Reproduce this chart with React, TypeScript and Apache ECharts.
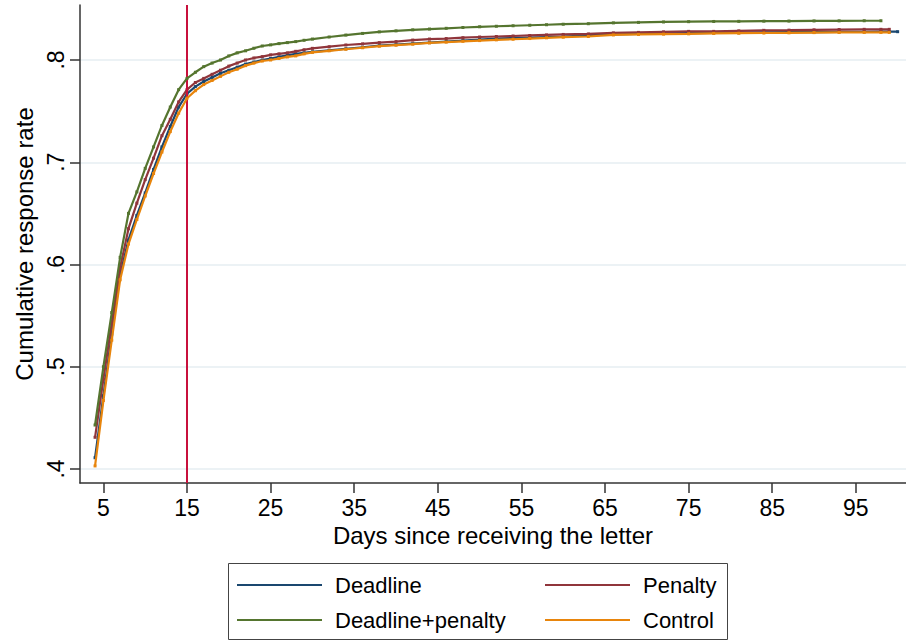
import React, { useEffect, useRef } from "react";
import * as echarts from "echarts";

const days = [
  4, 5, 6, 7, 8, 9, 10, 11, 12, 13, 14, 15, 16, 17, 18, 19, 20, 21, 22, 23, 24, 25, 26, 27, 28, 29, 30,
  32, 34, 36, 38, 40, 42, 44, 46, 48, 50, 52, 54, 56, 58, 60,
  63, 66, 69, 72, 75, 78, 81, 84, 87, 90, 93, 96, 98, 99, 100,
];

const deadline = [
  0.411, 0.4717, 0.532, 0.59, 0.624, 0.648, 0.67, 0.693, 0.715, 0.735, 0.754, 0.767, 0.774, 0.779, 0.783, 0.787, 0.79, 0.793, 0.796, 0.798, 0.8, 0.8015, 0.803, 0.8045, 0.806, 0.807, 0.808,
  0.8095, 0.811, 0.8125, 0.814, 0.815, 0.816, 0.817, 0.818, 0.819, 0.82, 0.821, 0.8215, 0.822, 0.8225, 0.823,
  0.824, 0.825, 0.8255, 0.826, 0.8263, 0.8265, 0.8267, 0.827, 0.8272, 0.8273, 0.8275, 0.8276, 0.8277, 0.8277, 0.8277,
];

const penalty = [
  0.431, 0.488, 0.543, 0.597, 0.635, 0.66, 0.683, 0.704, 0.726, 0.742, 0.759, 0.771, 0.778, 0.782, 0.786, 0.79, 0.794, 0.797, 0.8, 0.802, 0.8033, 0.805, 0.806, 0.807, 0.8085, 0.81, 0.8114,
  0.813, 0.8147, 0.8158, 0.817, 0.818, 0.8195, 0.8205, 0.821, 0.8218, 0.8225, 0.823, 0.8235, 0.824, 0.8245, 0.825,
  0.8255, 0.8265, 0.827, 0.8275, 0.828, 0.828, 0.8285, 0.829, 0.8292, 0.8295, 0.8298, 0.83, 0.83, 0.83, null,
];

const deadlinePenalty = [
  0.443, 0.5, 0.553, 0.607, 0.65, 0.671, 0.694, 0.715, 0.736, 0.754, 0.771, 0.782, 0.788, 0.7935, 0.797, 0.8, 0.804, 0.807, 0.809, 0.8115, 0.8137, 0.8148, 0.816, 0.817, 0.818, 0.8193, 0.8205,
  0.8225, 0.8244, 0.826, 0.8275, 0.8285, 0.8295, 0.8303, 0.831, 0.8318, 0.8325, 0.833, 0.8335, 0.834, 0.8345, 0.835,
  0.8355, 0.8363, 0.8368, 0.8372, 0.8375, 0.8377, 0.8378, 0.838, 0.8381, 0.8382, 0.8383, 0.8384, 0.8384, null, null,
];

const control = [
  0.403, 0.467, 0.526, 0.585, 0.62, 0.644, 0.667, 0.689, 0.71, 0.73, 0.748, 0.7626, 0.77, 0.776, 0.78, 0.784, 0.788, 0.791, 0.7945, 0.797, 0.799, 0.8, 0.8015, 0.803, 0.804, 0.806, 0.8075,
  0.809, 0.8105, 0.812, 0.8135, 0.8145, 0.8155, 0.8167, 0.8175, 0.8183, 0.819, 0.8197, 0.8203, 0.821, 0.8217, 0.8223,
  0.823, 0.8245, 0.825, 0.8253, 0.8256, 0.826, 0.8262, 0.8264, 0.8266, 0.8268, 0.827, 0.827, 0.827, 0.827, null,
];

const seriesNames = ["Deadline", "Penalty", "Deadline+penalty", "Control"];
const seriesColors = ["#1a476f", "#90353b", "#55752f", "#e8850c"];
const xTicks = [5, 15, 25, 35, 45, 55, 65, 75, 85, 95];
const yTicks = [0.4, 0.5, 0.6, 0.7, 0.8];
const cutoffDay = 15;

const FONT = "'Liberation Sans', Arial, sans-serif";
const FS_TITLE = 24;
const FS_TICK = 23;
const FS_LEG = 22;

export default function App() {
  const ref = useRef<HTMLDivElement>(null);
  useEffect(() => {
    const chart = echarts.init(ref.current!, null, { renderer: "svg" });
    const allVals = [deadline, penalty, deadlinePenalty, control];
    const series: any[] = allVals.map((vals, k) => ({
      name: seriesNames[k],
      type: "line",
      data: days.map((d, i) => [d, vals[i]]).filter((p) => p[1] !== null),
      color: seriesColors[k],
      lineStyle: { width: 2.2, color: seriesColors[k] },
      itemStyle: { color: seriesColors[k] },
      symbol: "rect",
      symbolSize: 3,
      showSymbol: true,
      z: 3 + k,
    }));
    series.push({
      name: "cutoff",
      type: "line",
      data: [],
      z: 10,
      markLine: {
        silent: true,
        symbol: "none",
        label: { show: false },
        lineStyle: { color: "#c8103c", width: 2, type: "solid" },
        data: [{ xAxis: cutoffDay }],
      },
    });

    const legendText = { fontSize: FS_LEG, color: "#000", fontFamily: FONT, lineHeight: 24, padding: [0, 0, 0, 8] };

    chart.setOption({
      animation: false,
      backgroundColor: "#ffffff",
      textStyle: { fontFamily: FONT },
      grid: { left: 80, top: 5, right: 0, bottom: 157, containLabel: false },
      xAxis: {
        type: "value",
        min: 2.2,
        max: 101,
        name: "Days since receiving the letter",
        nameLocation: "middle",
        nameGap: 35,
        nameTextStyle: { fontSize: FS_TITLE, color: "#000", fontFamily: FONT },
        axisLine: { show: true, onZero: false, lineStyle: { color: "#333", width: 1.5 } },
        axisTick: { show: true, length: 10, lineStyle: { color: "#333", width: 1.5 }, customValues: xTicks },
        axisLabel: { show: true, customValues: xTicks, fontSize: FS_TICK, color: "#000", margin: 13, fontFamily: FONT },
        splitLine: { show: false },
      },
      yAxis: {
        type: "value",
        min: 0.3863,
        max: 0.8538,
        name: "Cumulative response rate",
        nameLocation: "middle",
        nameRotate: 90,
        nameGap: 40,
        nameTextStyle: { fontSize: FS_TITLE, color: "#000", fontFamily: FONT },
        axisLine: { show: true, onZero: false, lineStyle: { color: "#333", width: 1.5 } },
        axisTick: { show: true, length: 10, lineStyle: { color: "#333", width: 1.5 }, customValues: yTicks },
        axisLabel: {
          show: true,
          customValues: yTicks,
          rotate: 90,
          fontSize: FS_TICK,
          color: "#000",
          margin: 13,
          fontFamily: FONT,
          formatter: (v: number) => v.toFixed(1).replace(/^0/, ""),
        },
        splitLine: { show: true, lineStyle: { color: "#e6eef2", width: 1.5 } },
      },
      legend: [
        {
          data: ["Deadline", "Deadline+penalty"],
          orient: "vertical",
          left: 237,
          top: 573,
          padding: 0,
          itemGap: 11,
          itemWidth: 85,
          itemHeight: 2,
          icon: "rect",
          textStyle: legendText,
        },
        {
          data: ["Penalty", "Control"],
          orient: "vertical",
          left: 545,
          top: 573,
          padding: 0,
          itemGap: 11,
          itemWidth: 85,
          itemHeight: 2,
          icon: "rect",
          textStyle: legendText,
        },
      ],
      graphic: [
        {
          type: "rect",
          shape: { x: 228.5, y: 563.5, width: 499, height: 76 },
          style: { fill: "none", stroke: "#444", lineWidth: 1 },
          z: 1,
        },
      ],
      series,
    });
    return () => chart.dispose();
  }, []);
  return (
    <div
      ref={ref}
      style={{ position: "fixed", left: 0, top: 0, width: 906, height: 640, background: "#fff" }}
    />
  );
}
